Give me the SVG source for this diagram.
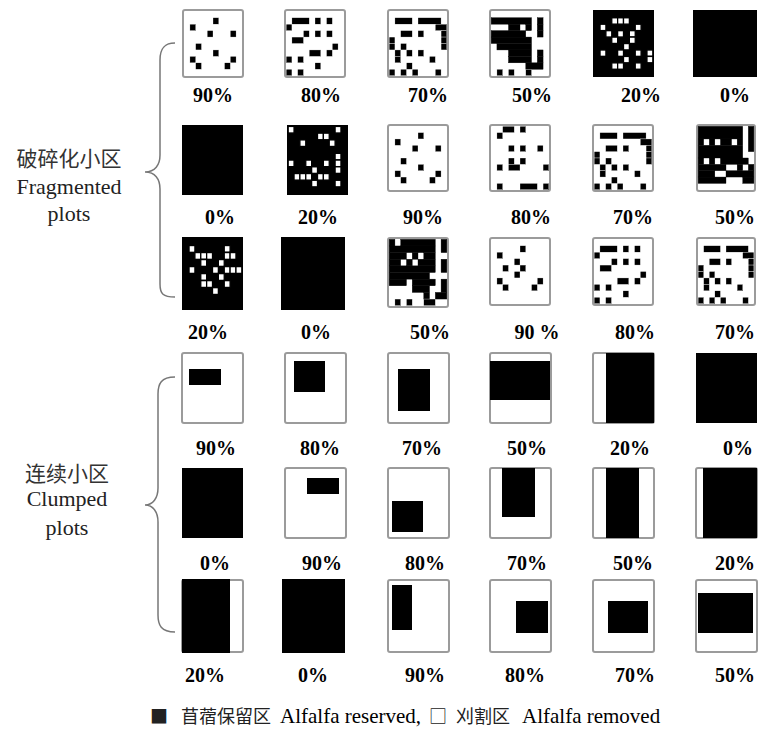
<svg xmlns="http://www.w3.org/2000/svg" xmlns:xlink="http://www.w3.org/1999/xlink" width="759" height="736" viewBox="0 0 759 736">
<style>
.bx{fill:#fff;stroke:#9b9b9b;stroke-width:2}
.bk{fill:#000}
.d{fill:#000;stroke:#fff;stroke-width:.05}
.s{fill:#000;stroke:#000;stroke-width:.06}
.w{fill:#fff;stroke:#000;stroke-width:.22}
.lb{font-family:"Liberation Serif","Times New Roman",serif;font-weight:bold;font-size:20px;text-anchor:middle;fill:#000}
.side{font-family:"Liberation Serif","Noto Sans CJK SC",serif;font-size:22px;text-anchor:middle;fill:#222}
.cjk{font-family:"Noto Sans CJK SC",sans-serif;font-size:21px;text-anchor:middle;fill:#333}
.br{fill:none;stroke:#777;stroke-width:1.5}
.lg{font-family:"Liberation Serif","Noto Sans CJK SC",serif;font-size:21px;fill:#000}
.lgc{font-family:"Noto Sans CJK SC",sans-serif;font-size:18px;fill:#222}
</style>
<defs>
<symbol id="A" viewBox="-0.2 -0.2 10.4 10.4" preserveAspectRatio="none">
<rect class="d" x="5" y="1" width="1" height="1"/><rect class="d" x="1" y="2" width="1" height="1"/><rect class="d" x="4" y="3" width="1" height="1"/><rect class="d" x="8" y="3" width="1" height="1"/><rect class="d" x="2" y="5" width="1" height="1"/><rect class="d" x="5" y="6" width="1" height="1"/><rect class="d" x="1" y="7" width="1" height="1"/><rect class="d" x="8" y="7" width="1" height="1"/><rect class="d" x="2" y="8" width="1" height="1"/><rect class="d" x="7" y="8" width="1" height="1"/>
</symbol>
<symbol id="A3" viewBox="-0.2 -0.2 10.4 10.4" preserveAspectRatio="none">
<rect class="d" x="5" y="1" width="1" height="1"/><rect class="d" x="1" y="2" width="1" height="1"/><rect class="d" x="4" y="3" width="1" height="1"/><rect class="d" x="2" y="4" width="1" height="1"/><rect class="d" x="5" y="4" width="1" height="1"/><rect class="d" x="4" y="5" width="1" height="1"/><rect class="d" x="1" y="6" width="1" height="1"/><rect class="d" x="8" y="6" width="1" height="1"/><rect class="d" x="2" y="7" width="1" height="1"/><rect class="d" x="7" y="7" width="1" height="1"/>
</symbol>
<symbol id="B" viewBox="-0.2 -0.2 10.4 10.4" preserveAspectRatio="none">
<rect class="d" x="1" y="1" width="3" height="1"/><rect class="d" x="5" y="1" width="1" height="1"/><rect class="d" x="7" y="1" width="1" height="1"/>
<rect class="d" x="0" y="2" width="1" height="1"/>
<rect class="d" x="3" y="3" width="1" height="1"/><rect class="d" x="5" y="3" width="1" height="1"/><rect class="d" x="7" y="3" width="1" height="1"/>
<rect class="d" x="1" y="4" width="2" height="1"/>
<rect class="d" x="8" y="5" width="1" height="1"/>
<rect class="d" x="4" y="6" width="2" height="1"/><rect class="d" x="7" y="6" width="1" height="1"/>
<rect class="d" x="0" y="7" width="1" height="1"/><rect class="d" x="2" y="7" width="1" height="1"/>
<rect class="d" x="5" y="8" width="1" height="1"/>
<rect class="d" x="0" y="9" width="1" height="1"/><rect class="d" x="2" y="9" width="1" height="1"/>
</symbol>
<symbol id="B2" viewBox="-0.2 -0.2 10.4 10.4" preserveAspectRatio="none">
<rect class="d" x="2" y="0" width="2" height="1"/><rect class="d" x="5" y="0" width="1" height="1"/>
<rect class="d" x="1" y="1" width="1" height="1"/>
<rect class="d" x="3" y="3" width="1" height="1"/><rect class="d" x="5" y="3" width="1" height="1"/><rect class="d" x="8" y="3" width="1" height="1"/>
<rect class="d" x="3" y="5" width="1" height="1"/><rect class="d" x="5" y="5" width="1" height="1"/>
<rect class="d" x="1" y="6" width="1" height="1"/><rect class="d" x="3" y="6" width="2" height="1"/><rect class="d" x="9" y="6" width="1" height="1"/>
<rect class="d" x="1" y="9" width="1" height="1"/><rect class="d" x="5" y="9" width="3" height="1"/><rect class="d" x="9" y="9" width="1" height="1"/>
</symbol>
<symbol id="C" viewBox="-0.2 -0.2 10.4 10.4" preserveAspectRatio="none">
<rect class="d" x="1" y="1" width="3" height="1"/><rect class="d" x="5" y="1" width="4" height="1"/>
<rect class="d" x="8" y="2" width="2" height="1"/>
<rect class="d" x="2" y="3" width="2" height="1"/><rect class="d" x="5" y="3" width="1" height="1"/><rect class="d" x="9" y="3" width="1" height="1"/>
<rect class="d" x="0" y="4" width="1" height="1"/><rect class="d" x="9" y="4" width="1" height="1"/>
<rect class="d" x="0" y="5" width="1" height="1"/><rect class="d" x="2" y="5" width="1" height="1"/><rect class="d" x="9" y="5" width="1" height="1"/>
<rect class="d" x="1" y="6" width="1" height="1"/><rect class="d" x="3" y="6" width="1" height="1"/><rect class="d" x="5" y="6" width="1" height="1"/>
<rect class="d" x="1" y="7" width="1" height="1"/><rect class="d" x="7" y="7" width="1" height="1"/>
<rect class="d" x="3" y="8" width="1" height="1"/>
<rect class="d" x="0" y="9" width="1" height="1"/><rect class="d" x="2" y="9" width="1" height="1"/><rect class="d" x="4" y="9" width="1" height="1"/><rect class="d" x="8" y="9" width="1" height="1"/>
</symbol>
<symbol id="D" viewBox="-0.2 -0.2 10.4 10.4" preserveAspectRatio="none">
<rect class="s" x="0" y="1" width="7" height="1"/><rect class="s" x="8" y="1" width="1" height="1"/>
<rect class="s" x="3" y="2" width="2" height="1"/><rect class="s" x="6" y="2" width="1" height="1"/><rect class="s" x="8" y="2" width="1" height="1"/>
<rect class="s" x="0" y="3" width="6" height="1"/><rect class="s" x="8" y="3" width="1" height="1"/>
<rect class="s" x="0" y="4" width="7" height="1"/>
<rect class="s" x="1" y="5" width="6" height="1"/>
<rect class="s" x="3" y="6" width="4" height="1"/><rect class="s" x="8" y="6" width="1" height="1"/>
<rect class="s" x="3" y="7" width="4" height="1"/><rect class="s" x="8" y="7" width="1" height="1"/>
<rect class="s" x="6" y="8" width="3" height="1"/>
<rect class="d" x="1" y="9" width="1" height="1"/><rect class="d" x="3" y="9" width="1" height="1"/><rect class="d" x="6" y="9" width="1" height="1"/>
</symbol>
<symbol id="D2" viewBox="-0.2 -0.2 10.4 10.4" preserveAspectRatio="none">
<rect class="s" x="0" y="0" width="8" height="2"/><rect class="s" x="9" y="0" width="1" height="4"/>
<rect class="s" x="0" y="2" width="1" height="1"/><rect class="s" x="2" y="2" width="1" height="1"/><rect class="s" x="4" y="2" width="2" height="1"/><rect class="s" x="7" y="2" width="1" height="1"/>
<rect class="s" x="0" y="3" width="8" height="2"/>
<rect class="s" x="0" y="5" width="1" height="1"/><rect class="s" x="2" y="5" width="1" height="1"/><rect class="s" x="4" y="5" width="5" height="1"/>
<rect class="s" x="0" y="6" width="5" height="1"/><rect class="s" x="7" y="6" width="1" height="1"/><rect class="s" x="9" y="6" width="1" height="1"/>
<rect class="s" x="0" y="7" width="3" height="1"/><rect class="s" x="5" y="7" width="5" height="1"/>
<rect class="s" x="0" y="8" width="5" height="1"/><rect class="s" x="8" y="8" width="2" height="1"/>
</symbol>
<symbol id="D3" viewBox="-0.2 -0.2 10.4 10.4" preserveAspectRatio="none">
<rect class="s" x="0" y="0" width="1" height="1"/><rect class="s" x="2" y="0" width="6" height="1"/><rect class="s" x="9" y="0" width="1" height="2"/>
<rect class="s" x="0" y="1" width="8" height="1"/>
<rect class="s" x="0" y="2" width="3" height="1"/><rect class="s" x="4" y="2" width="1" height="1"/><rect class="s" x="6" y="2" width="2" height="1"/>
<rect class="s" x="0" y="3" width="2" height="1"/><rect class="s" x="3" y="3" width="1" height="1"/><rect class="s" x="5" y="3" width="3" height="1"/><rect class="s" x="9" y="3" width="1" height="2"/>
<rect class="s" x="0" y="4" width="8" height="1"/>
<rect class="s" x="0" y="5" width="7" height="1"/>
<rect class="s" x="0" y="6" width="3" height="1"/><rect class="s" x="4" y="6" width="4" height="1"/><rect class="s" x="9" y="6" width="1" height="2"/>
<rect class="s" x="4" y="7" width="3" height="1"/>
<rect class="s" x="6" y="8" width="1" height="1"/><rect class="s" x="8" y="8" width="2" height="1"/>
<rect class="d" x="1" y="9" width="1" height="1"/><rect class="d" x="3" y="9" width="1" height="1"/><rect class="d" x="6" y="9" width="2" height="1"/>
</symbol>
<symbol id="E" viewBox="-0.2 -0.2 10.4 10.4" preserveAspectRatio="none">
<rect class="w" x="3" y="1" width="1" height="1"/><rect class="w" x="4" y="1" width="1" height="1"/><rect class="w" x="5" y="1" width="1" height="1"/>
<rect class="w" x="1" y="2" width="1" height="1"/><rect class="w" x="7" y="2" width="1" height="1"/>
<rect class="w" x="2" y="3" width="1" height="1"/><rect class="w" x="4" y="3" width="1" height="1"/><rect class="w" x="6" y="3" width="1" height="1"/>
<rect class="w" x="3" y="4" width="1" height="1"/><rect class="w" x="6" y="4" width="1" height="1"/>
<rect class="w" x="5" y="5" width="1" height="1"/>
<rect class="w" x="1" y="6" width="1" height="1"/><rect class="w" x="4" y="6" width="1" height="1"/><rect class="w" x="7" y="6" width="1" height="1"/><rect class="w" x="9" y="6" width="1" height="1"/>
<rect class="w" x="5" y="7" width="1" height="1"/><rect class="w" x="9" y="7" width="1" height="1"/>
<rect class="w" x="3" y="8" width="1" height="1"/><rect class="w" x="4" y="8" width="1" height="1"/><rect class="w" x="7" y="8" width="1" height="1"/>
</symbol>
<symbol id="E2" viewBox="-0.2 -0.2 10.4 10.4" preserveAspectRatio="none">
<rect class="w" x="0" y="0" width="1" height="1"/><rect class="w" x="8" y="0" width="1" height="1"/>
<rect class="w" x="5" y="1" width="1" height="1"/><rect class="w" x="6" y="1" width="1" height="1"/>
<rect class="w" x="2" y="2" width="1" height="1"/><rect class="w" x="7" y="2" width="1" height="1"/>
<rect class="w" x="8" y="4" width="1" height="1"/>
<rect class="w" x="0" y="5" width="1" height="1"/><rect class="w" x="3" y="5" width="1" height="1"/><rect class="w" x="6" y="5" width="1" height="1"/><rect class="w" x="8" y="5" width="1" height="1"/>
<rect class="w" x="4" y="6" width="1" height="1"/><rect class="w" x="8" y="6" width="1" height="1"/>
<rect class="w" x="1" y="7" width="1" height="1"/><rect class="w" x="2" y="7" width="1" height="1"/><rect class="w" x="3" y="7" width="1" height="1"/><rect class="w" x="5" y="7" width="1" height="1"/><rect class="w" x="6" y="7" width="1" height="1"/>
<rect class="w" x="4" y="8" width="1" height="1"/><rect class="w" x="8" y="8" width="1" height="1"/>
</symbol>
<symbol id="E3" viewBox="-0.2 -0.2 10.4 10.4" preserveAspectRatio="none">
<rect class="w" x="1" y="1" width="1" height="1"/><rect class="w" x="7" y="1" width="1" height="1"/>
<rect class="w" x="2" y="2" width="1" height="1"/><rect class="w" x="3" y="2" width="1" height="1"/><rect class="w" x="4" y="2" width="1" height="1"/><rect class="w" x="7" y="2" width="1" height="1"/><rect class="w" x="8" y="2" width="1" height="1"/>
<rect class="w" x="3" y="3" width="1" height="1"/><rect class="w" x="6" y="3" width="1" height="1"/>
<rect class="w" x="1" y="4" width="1" height="1"/><rect class="w" x="5" y="4" width="1" height="1"/><rect class="w" x="7" y="4" width="1" height="1"/><rect class="w" x="8" y="4" width="1" height="1"/><rect class="w" x="9" y="4" width="1" height="1"/>
<rect class="w" x="3" y="5" width="1" height="1"/><rect class="w" x="6" y="5" width="1" height="1"/>
<rect class="w" x="3" y="6" width="1" height="1"/><rect class="w" x="4" y="6" width="1" height="1"/><rect class="w" x="7" y="6" width="1" height="1"/>
<rect class="w" x="5" y="7" width="1" height="1"/>
</symbol>
</defs>

<g id="side-labels">
<text class="cjk" x="69" y="166">破碎化小区</text>
<text class="side" x="69" y="194">Fragmented</text>
<text class="side" x="69" y="221">plots</text>
<text class="cjk" x="67" y="481">连续小区</text>
<text class="side" x="67" y="506">Clumped</text>
<text class="side" x="67" y="535">plots</text>
</g>

<g id="connectors">
<path class="br" d="M175,43 C163,43 160,50 160,60 L160,155 C160,165 155,172 145,172 C155,172 160,179 160,189 L160,284 C160,294 163,297 175,297"/>
<path class="br" d="M175,377 C161,377 158,384 158,394 L158,488 C158,498 153,505 145,505 C153,505 158,512 158,522 L158,615 C158,625 161,632 175,632"/>
</g>

<!-- Fragmented row 1 -->
<g id="f1"><rect class="bx" x="183" y="10" width="60" height="67" rx="2"/><use href="#A" x="183" y="10" width="60" height="67"/><text class="lb" x="213" y="102">90%</text></g>
<g id="f2"><rect class="bx" x="285" y="10" width="60" height="67" rx="2"/><use href="#B" x="285" y="10" width="60" height="67"/><text class="lb" x="321" y="102">80%</text></g>
<g id="f3"><rect class="bx" x="388" y="10" width="60" height="67" rx="2"/><use href="#C" x="388" y="10" width="60" height="67"/><text class="lb" x="428" y="102">70%</text></g>
<g id="f4"><rect class="bx" x="490" y="10" width="60" height="67" rx="2"/><use href="#D" x="490" y="10" width="60" height="67"/><text class="lb" x="532" y="102">50%</text></g>
<g id="f5"><rect class="bk" x="593" y="10" width="61" height="67"/><use href="#E" x="593" y="10" width="61" height="67"/><text class="lb" x="641" y="102">20%</text></g>
<g id="f6"><rect class="bk" x="693" y="10" width="64" height="67"/><text class="lb" x="735" y="102">0%</text></g>

<!-- Fragmented row 2 -->
<g id="f7"><rect class="bk" x="182" y="125" width="61" height="70"/><text class="lb" x="220" y="224">0%</text></g>
<g id="f8"><rect class="bk" x="287" y="125" width="61" height="70"/><use href="#E2" x="287" y="125" width="61" height="70"/><text class="lb" x="318" y="224">20%</text></g>
<g id="f9"><rect class="bx" x="388" y="125" width="60" height="66" rx="2"/><use href="#A" x="388" y="125" width="60" height="66"/><text class="lb" x="423" y="224">90%</text></g>
<g id="f10"><rect class="bx" x="490" y="125" width="60" height="66" rx="2"/><use href="#B2" x="490" y="125" width="60" height="66"/><text class="lb" x="531" y="224">80%</text></g>
<g id="f11"><rect class="bx" x="593" y="125" width="60" height="66" rx="2"/><use href="#C" x="593" y="125" width="60" height="66"/><text class="lb" x="633" y="224">70%</text></g>
<g id="f12"><rect class="bx" x="697" y="125" width="58" height="66" rx="2"/><use href="#D2" x="697" y="125" width="58" height="66"/><text class="lb" x="735" y="224">50%</text></g>

<!-- Fragmented row 3 -->
<g id="f13"><rect class="bk" x="182" y="237" width="61" height="73"/><use href="#E3" x="182" y="237" width="61" height="73"/><text class="lb" x="208" y="339">20%</text></g>
<g id="f14"><rect class="bk" x="281" y="237" width="64" height="73"/><text class="lb" x="316" y="339">0%</text></g>
<g id="f15"><rect class="bx" x="388" y="238" width="60" height="69" rx="2"/><use href="#D3" x="388" y="238" width="60" height="69"/><text class="lb" x="430" y="339">50%</text></g>
<g id="f16"><rect class="bx" x="490" y="238" width="60" height="67" rx="2"/><use href="#A3" x="490" y="238" width="60" height="67"/><text class="lb" x="537" y="339">90 %</text></g>
<g id="f17"><rect class="bx" x="593" y="238" width="60" height="67" rx="2"/><use href="#B" x="593" y="238" width="60" height="67"/><text class="lb" x="635" y="339">80%</text></g>
<g id="f18"><rect class="bx" x="697" y="238" width="58" height="67" rx="2"/><use href="#C" x="697" y="238" width="58" height="67"/><text class="lb" x="735" y="339">70%</text></g>

<!-- Clumped row 1 -->
<g id="c1"><rect class="bx" x="182" y="353" width="61" height="70" rx="2"/><rect class="bk" x="189" y="369" width="32" height="16"/><text class="lb" x="216" y="455">90%</text></g>
<g id="c2"><rect class="bx" x="285" y="353" width="61" height="70" rx="2"/><rect class="bk" x="294" y="361" width="31" height="31"/><text class="lb" x="320" y="455">80%</text></g>
<g id="c3"><rect class="bx" x="388" y="353" width="61" height="70" rx="2"/><rect class="bk" x="398" y="369" width="32" height="42"/><text class="lb" x="422" y="455">70%</text></g>
<g id="c4"><rect class="bx" x="490" y="353" width="61" height="70" rx="2"/><rect class="bk" x="490" y="361" width="60" height="39"/><text class="lb" x="527" y="455">50%</text></g>
<g id="c5"><rect class="bx" x="593" y="353" width="61" height="70" rx="2"/><rect class="bk" x="606" y="353" width="48" height="70"/><text class="lb" x="630" y="455">20%</text></g>
<g id="c6"><rect class="bk" x="696" y="353" width="61" height="70"/><text class="lb" x="738" y="455">0%</text></g>

<!-- Clumped row 2 -->
<g id="c7"><rect class="bk" x="182" y="468" width="61" height="70"/><text class="lb" x="215" y="570">0%</text></g>
<g id="c8"><rect class="bx" x="285" y="468" width="61" height="70" rx="2"/><rect class="bk" x="307" y="478" width="32" height="16"/><text class="lb" x="322" y="570">90%</text></g>
<g id="c9"><rect class="bx" x="388" y="468" width="61" height="70" rx="2"/><rect class="bk" x="392" y="501" width="31" height="31"/><text class="lb" x="425" y="570">80%</text></g>
<g id="c10"><rect class="bx" x="490" y="468" width="61" height="70" rx="2"/><rect class="bk" x="502" y="468" width="33" height="49"/><text class="lb" x="527" y="570">70%</text></g>
<g id="c11"><rect class="bx" x="593" y="468" width="61" height="70" rx="2"/><rect class="bk" x="606" y="468" width="33" height="70"/><text class="lb" x="633" y="570">50%</text></g>
<g id="c12"><rect class="bx" x="696" y="468" width="61" height="70" rx="2"/><rect class="bk" x="703" y="468" width="54" height="70"/><text class="lb" x="735" y="570">20%</text></g>

<!-- Clumped row 3 -->
<g id="c13"><rect class="bx" x="182" y="580" width="61" height="72" rx="2"/><rect class="bk" x="182" y="579" width="48" height="74"/><text class="lb" x="205" y="682">20%</text></g>
<g id="c14"><rect class="bk" x="282" y="579" width="63" height="74"/><text class="lb" x="313" y="682">0%</text></g>
<g id="c15"><rect class="bx" x="388" y="580" width="61" height="72" rx="2"/><rect class="bk" x="392" y="585" width="20" height="45"/><text class="lb" x="425" y="682">90%</text></g>
<g id="c16"><rect class="bx" x="490" y="580" width="61" height="72" rx="2"/><rect class="bk" x="516" y="601" width="32" height="32"/><text class="lb" x="525" y="682">80%</text></g>
<g id="c17"><rect class="bx" x="593" y="580" width="61" height="72" rx="2"/><rect class="bk" x="608" y="601" width="40" height="32"/><text class="lb" x="635" y="682">70%</text></g>
<g id="c18"><rect class="bx" x="696" y="580" width="61" height="72" rx="2"/><rect class="bk" x="698" y="593" width="55" height="40"/><text class="lb" x="735" y="682">50%</text></g>

<g id="legend">
<text class="lgc" x="150" y="723">■</text>
<text class="lgc" x="181" y="723">苜蓿保留区</text>
<text class="lg" x="280" y="723">Alfalfa reserved,</text>
<text class="lgc" x="429" y="723">□</text>
<text class="lgc" x="456" y="723">刈割区</text>
<text class="lg" x="522" y="723">Alfalfa removed</text>
</g>
</svg>
